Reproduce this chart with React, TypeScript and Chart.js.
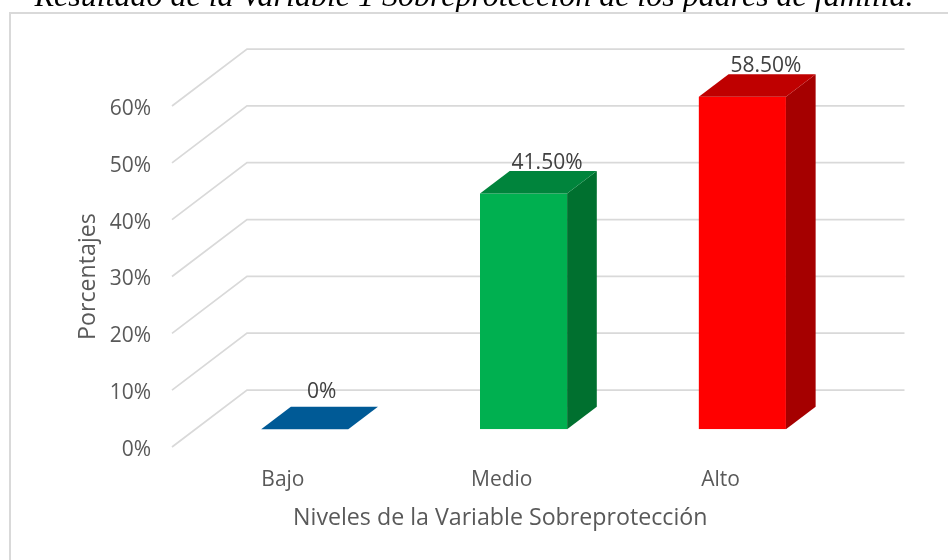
import React, { useEffect, useRef } from "react";
import { Chart, registerables } from "chart.js";

Chart.register(...registerables);

const categories = ["Bajo", "Medio", "Alto"];
const percentages = [0, 41.5, 58.5];
const valueLabels = ["0%", "41.50%", "58.50%"];
const frontColors = ["#005A96", "#00B050", "#FF0000"];
const topColors = ["#005A96", "#00843C", "#BF0000"];
const sideColors = ["#005A96", "#00702F", "#A50000"];

const FONT = "'Open Sans', sans-serif";
const TEXT = "#595959";
const GRID = "#D9D9D9";
const FLOOR_DX = 75;
const FLOOR_DY = 57;
const BAR_DX = 23.3;
const BAR_DY = 17.7;
const DEPTH_DX = 29.7;
const DEPTH_DY = 22.5;

const depthPlugin = {
  id: "depth",
  afterLayout(chart: any) {
    if (chart.titleBlock) {
      chart.titleBlock.left = 0;
      chart.titleBlock.right = chart.width;
    }
  },
  beforeDatasetsDraw(chart: any) {
    const { ctx, chartArea, scales } = chart;
    ctx.save();
    ctx.strokeStyle = GRID;
    ctx.lineWidth = 2;
    ctx.beginPath();
    ctx.moveTo(10, chart.height);
    ctx.lineTo(10, 13);
    ctx.lineTo(chart.width, 13);
    ctx.stroke();
    ctx.lineWidth = 1.75;
    for (const tick of scales.y.ticks) {
      const y = scales.y.getPixelForValue(tick.value);
      ctx.beginPath();
      ctx.moveTo(chartArea.left, y);
      ctx.lineTo(chartArea.left + FLOOR_DX, y - FLOOR_DY);
      ctx.lineTo(chartArea.right + FLOOR_DX + 1, y - FLOOR_DY);
      ctx.stroke();
    }
    ctx.restore();
  },
  beforeDatasetDraw(chart: any) {
    chart.ctx.save();
    chart.ctx.translate(BAR_DX, -BAR_DY);
  },
  afterDatasetDraw(chart: any) {
    const { ctx } = chart;
    const bars = chart.getDatasetMeta(0).data;
    bars.forEach((bar: any, i: number) => {
      const l = bar.x - bar.width / 2;
      const r = bar.x + bar.width / 2;
      ctx.fillStyle = sideColors[i];
      ctx.beginPath();
      ctx.moveTo(r, bar.base);
      ctx.lineTo(r + DEPTH_DX, bar.base - DEPTH_DY);
      ctx.lineTo(r + DEPTH_DX, bar.y - DEPTH_DY);
      ctx.lineTo(r, bar.y);
      ctx.closePath();
      ctx.fill();
      ctx.fillStyle = topColors[i];
      ctx.beginPath();
      ctx.moveTo(l, bar.y);
      ctx.lineTo(l + DEPTH_DX, bar.y - DEPTH_DY);
      ctx.lineTo(r + DEPTH_DX, bar.y - DEPTH_DY);
      ctx.lineTo(r, bar.y);
      ctx.closePath();
      ctx.fill();
    });
    ctx.restore();
  },
  afterDatasetsDraw(chart: any) {
    const { ctx } = chart;
    const bars = chart.getDatasetMeta(0).data;
    ctx.save();
    ctx.font = `21px ${FONT}`;
    ctx.fillStyle = "#404040";
    ctx.textAlign = "center";
    ctx.textBaseline = "middle";
    bars.forEach((bar: any, i: number) => {
      const flat = percentages[i] === 0;
      const x = bar.x + BAR_DX + (flat ? 17 : 23.5);
      const y = bar.y - BAR_DY - DEPTH_DY - (flat ? 15 : 8);
      ctx.fillText(valueLabels[i], x, y);
    });
    ctx.restore();
  },
};

export default function App() {
  const ref = useRef<HTMLCanvasElement>(null);
  useEffect(() => {
    if (!ref.current) return;
    const chart = new Chart(ref.current, {
      type: "bar",
      plugins: [depthPlugin],
      data: {
        labels: categories,
        datasets: [
          {
            data: percentages,
            backgroundColor: frontColors,
            borderWidth: 0,
            barPercentage: 0.398,
            categoryPercentage: 1,
          },
        ],
      },
      options: {
        responsive: false,
        animation: false,
        layout: { padding: { left: 0, top: 0, right: 119.5, bottom: 0 } },
        plugins: {
          legend: { display: false },
          tooltip: { enabled: false },
          title: {
            display: true,
            text: "Resultado de la Variable 1 Sobreprotección de los padres de familia.",
            color: "#000000",
            font: { family: "'Liberation Serif', serif", size: 32, style: "italic", weight: "normal" },
            padding: { top: -22, bottom: 89.6 },
          },
        },
        scales: {
          x: {
            grid: { display: false },
            border: { display: false },
            ticks: { color: TEXT, font: { family: FONT, size: 21 }, padding: 12, labelOffset: 1.5 },
            title: {
              display: true,
              text: "Niveles de la Variable Sobreprotección",
              color: TEXT,
              font: { family: FONT, size: 23.2 },
              padding: { top: 0, bottom: 28 },
            },
            afterFit(scale: any) {
              scale.height = 113;
            },
          },
          y: {
            min: 0,
            max: 60,
            grid: { display: false },
            border: { display: false },
            ticks: {
              stepSize: 10,
              color: TEXT,
              font: { family: FONT, size: 21 },
              padding: 13,
              labelOffset: 3,
              callback: (v: any) => `${v}%`,
            },
            title: {
              display: true,
              text: "Porcentajes",
              color: TEXT,
              font: { family: FONT, size: 23.2 },
              padding: { top: 74, bottom: 0 },
            },
            afterFit(scale: any) {
              scale.width = 172;
            },
          },
        },
      },
    } as any);
    return () => chart.destroy();
  }, []);
  return (
    <div style={{ position: "fixed", left: 0, top: 0, width: 948, height: 560, background: "#fff" }}>
      <canvas ref={ref} width={948} height={560} style={{ display: "block" }} />
    </div>
  );
}
